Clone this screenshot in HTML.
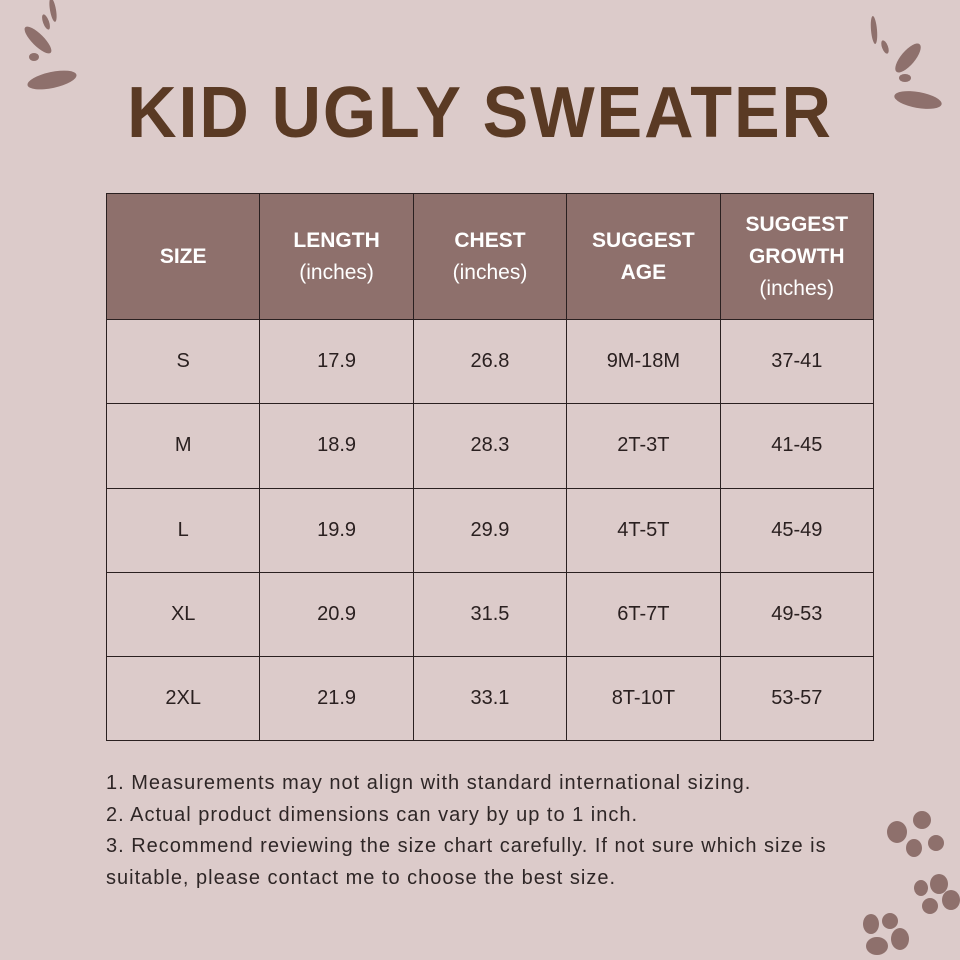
<!DOCTYPE html>
<html><head><meta charset="utf-8"><style>
html,body{margin:0;padding:0}
body{width:960px;height:960px;background:#dccbca;position:relative;overflow:hidden;font-family:"Liberation Sans",sans-serif;color:#3a2a22}
.title{position:absolute;left:0;width:960px;top:72px;text-align:center;font-size:72px;font-weight:bold;color:#5a3a24;letter-spacing:2px;transform:scaleX(0.95);transform-origin:center;font-family:"Liberation Sans",sans-serif}
table{position:absolute;left:106px;top:193px;border-collapse:collapse;table-layout:fixed;width:768px;height:548px}
td,th{border:1.5px solid #2a2020;text-align:center;font-size:20px;padding:0}
th{background:#8e706c;color:#fff;height:125px;font-weight:bold;line-height:32px;font-size:21px}
th span{font-weight:normal}
td{height:83px;color:#2a2020}
.notes{position:absolute;left:106px;top:768px;font-size:20px;line-height:31.5px;color:#2e2626;letter-spacing:1px;white-space:nowrap}
</style></head><body>
<svg width="960" height="960" style="position:absolute;left:0;top:0">
<g fill="#8e706c">
<ellipse cx="52" cy="80" rx="25" ry="8" transform="rotate(-12 52 80)"/>
<ellipse cx="34" cy="57" rx="5" ry="4"/>
<ellipse cx="38" cy="40" rx="18" ry="6" transform="rotate(45 38 40)"/>
<ellipse cx="46" cy="22" rx="8" ry="3" transform="rotate(70 46 22)"/>
<ellipse cx="53" cy="10" rx="12" ry="3" transform="rotate(80 53 10)"/>
<ellipse cx="918" cy="100" rx="24" ry="8" transform="rotate(10 918 100)"/>
<ellipse cx="905" cy="78" rx="6" ry="4"/>
<ellipse cx="908" cy="58" rx="18" ry="7" transform="rotate(-50 908 58)"/>
<ellipse cx="885" cy="47" rx="7" ry="3" transform="rotate(70 885 47)"/>
<ellipse cx="874" cy="30" rx="14" ry="3" transform="rotate(85 874 30)"/>
<ellipse cx="897" cy="832" rx="10" ry="11"/><ellipse cx="922" cy="820" rx="9" ry="9"/>
<ellipse cx="914" cy="848" rx="8" ry="9"/><ellipse cx="936" cy="843" rx="8" ry="8"/>
<ellipse cx="921" cy="888" rx="7" ry="8"/><ellipse cx="939" cy="884" rx="9" ry="10"/>
<ellipse cx="930" cy="906" rx="8" ry="8"/><ellipse cx="951" cy="900" rx="9" ry="10"/>
<ellipse cx="871" cy="924" rx="8" ry="10"/><ellipse cx="890" cy="921" rx="8" ry="8"/>
<ellipse cx="877" cy="946" rx="11" ry="9"/><ellipse cx="900" cy="939" rx="9" ry="11"/>
</g></svg>
<div class="title">KID UGLY SWEATER</div>
<table>
<tr><th>SIZE</th><th>LENGTH<br><span>(inches)</span></th><th>CHEST<br><span>(inches)</span></th><th>SUGGEST<br>AGE</th><th>SUGGEST<br>GROWTH<br><span>(inches)</span></th></tr>
<tr><td>S</td><td>17.9</td><td>26.8</td><td>9M-18M</td><td>37-41</td></tr>
<tr><td>M</td><td>18.9</td><td>28.3</td><td>2T-3T</td><td>41-45</td></tr>
<tr><td>L</td><td>19.9</td><td>29.9</td><td>4T-5T</td><td>45-49</td></tr>
<tr><td>XL</td><td>20.9</td><td>31.5</td><td>6T-7T</td><td>49-53</td></tr>
<tr><td>2XL</td><td>21.9</td><td>33.1</td><td>8T-10T</td><td>53-57</td></tr>
</table>
<div class="notes">1. Measurements may not align with standard international sizing.<br>2. Actual product dimensions can vary by up to 1 inch.<br>3. Recommend reviewing the size chart carefully. If not sure which size is<br>suitable, please contact me to choose the best size.</div>
</body></html>
